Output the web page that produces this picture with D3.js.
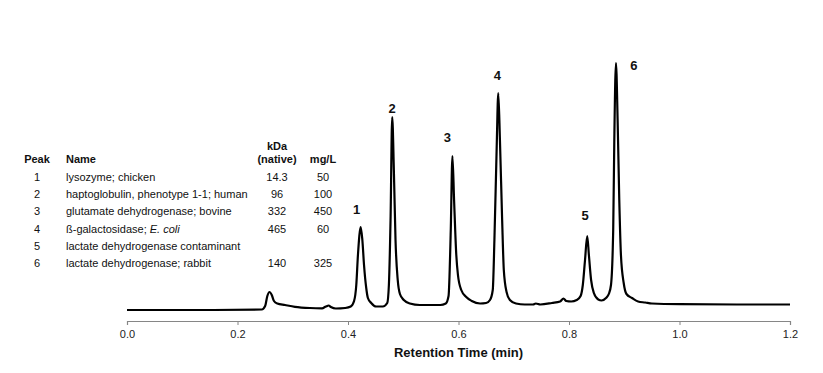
<!DOCTYPE html>
<html>
<head>
<meta charset="utf-8">
<script src="https://cdn.jsdelivr.net/npm/d3@7"></script>
<style>
  body { margin: 0; background: #fff; }
  text { font-family: "Liberation Sans", Arial, sans-serif; }
</style>
</head>
<body>
<div id="chart"></div>
<script>
// chromatogram trace: retention time (min), detector signal (arb.)
var traceTime = [0, 0.132, 0.244, 0.250, 0.254, 0.258, 0.262, 0.266, 0.272, 0.286, 0.304, 0.331,
  0.353, 0.360, 0.365, 0.369, 0.378, 0.395, 0.405, 0.411, 0.415, 0.418, 0.423, 0.426, 0.429,
  0.433, 0.436, 0.442, 0.451, 0.463, 0.471, 0.474, 0.477, 0.480, 0.483, 0.486, 0.490, 0.494,
  0.501, 0.512, 0.530, 0.567, 0.577, 0.582, 0.586, 0.589, 0.592, 0.596, 0.599, 0.605, 0.614,
  0.624, 0.639, 0.650, 0.657, 0.662, 0.665, 0.669, 0.672, 0.675, 0.679, 0.682, 0.687, 0.693,
  0.704, 0.720, 0.735, 0.740, 0.748, 0.769, 0.784, 0.790, 0.795, 0.804, 0.814, 0.821, 0.825,
  0.829, 0.833, 0.836, 0.840, 0.845, 0.853, 0.859, 0.867, 0.872, 0.876, 0.880, 0.882, 0.885,
  0.888, 0.891, 0.894, 0.899, 0.904, 0.914, 0.925, 0.938, 0.950, 1.001, 1.110, 1.200];
var traceSignal = [0, 0, 0.5, 4, 14, 18, 15, 9, 6.5, 5, 3.2, 2,
  1.7, 3.5, 4.5, 3, 1.5, 2, 3.5, 9, 25, 55, 83, 70, 45,
  22, 12, 7, 3.5, 3.5, 7, 25, 90, 193, 140, 70, 30, 16,
  10, 6.5, 5, 5, 6.5, 14, 80, 154, 110, 55, 35, 20, 13,
  9, 6.5, 7, 10, 20, 70, 160, 217, 170, 90, 40, 18, 10,
  6.5, 5.5, 5.5, 6.5, 5.5, 7, 8.5, 11.5, 9, 8.5, 10, 14, 25,
  50, 74, 55, 30, 17, 10.5, 9.5, 12, 16, 25, 80, 170, 247,
  190, 110, 55, 27, 16, 12, 8.5, 7.5, 6.5, 5.8, 5.5, 5.5];

// numbered peaks
var peakLabels = ["1", "2", "3", "4", "5", "6"];
var peakTimes = [0.423, 0.480, 0.589, 0.672, 0.833, 0.885];
var peakSignals = [83, 193, 154, 217, 74, 247];

// x axis
var xTicks = [0, 0.2, 0.4, 0.6, 0.8, 1.0, 1.2];
var xTitle = "Retention Time (min)";

// sample table
var tablePeaks = ["1", "2", "3", "4", "5", "6"];
var tableNames = ["lysozyme; chicken", "haptoglobulin, phenotype 1-1; human",
  "glutamate dehydrogenase; bovine", "ß-galactosidase; E. coli",
  "lactate dehydrogenase contaminant", "lactate dehydrogenase; rabbit"];
var tableKda = ["14.3", "96", "332", "465", "", "140"];
var tableMgL = ["50", "100", "450", "60", "", "325"];
var italicTerm = "E. coli";

var width = 823, height = 373;

var svg = d3.select("#chart").append("svg")
  .attr("width", width)
  .attr("height", height);

var x = d3.scaleLinear().domain([0, 1.2]).range([127, 790]);
var y = d3.scaleLinear().domain([0, 250]).range([310, 60]);

// axis
var axisY = 321;
var xAxis = d3.axisBottom(x)
  .tickValues(xTicks)
  .tickFormat(d3.format(".1f"))
  .tickSize(4)
  .tickPadding(5);

var gx = svg.append("g")
  .attr("transform", "translate(0," + axisY + ")")
  .call(xAxis);
gx.select(".domain").attr("stroke", "#868686").attr("stroke-width", 1.2);
gx.selectAll(".tick line").attr("stroke", "#868686");
gx.selectAll(".tick text")
  .attr("font-family", "Liberation Sans, Arial, sans-serif")
  .attr("font-size", 11)
  .attr("fill", "#222");

svg.append("text")
  .text(xTitle)
  .attr("x", (x(0) + x(1.2)) / 2)
  .attr("y", 357)
  .attr("text-anchor", "middle")
  .attr("font-size", 13)
  .attr("font-weight", "bold")
  .attr("fill", "#111");

// trace
var points = traceTime.map(function (t, i) { return [t, traceSignal[i]]; });
var line = d3.line()
  .x(function (d) { return x(d[0]); })
  .y(function (d) { return y(d[1]); })
  .curve(d3.curveMonotoneX);

svg.append("path")
  .datum(points)
  .attr("d", line)
  .attr("fill", "none")
  .attr("stroke", "#000")
  .attr("stroke-width", 2.2)
  .attr("stroke-linejoin", "round");

// peak numbers
var labelOffsets = [[-4, -13], [0, -4], [-5, -14], [-1, -13], [-2, -16], [18, 7]];
svg.selectAll(".peak-label")
  .data(peakLabels)
  .enter().append("text")
  .attr("class", "peak-label")
  .text(function (d) { return d; })
  .attr("x", function (d, i) { return x(peakTimes[i]) + labelOffsets[i][0]; })
  .attr("y", function (d, i) { return y(peakSignals[i]) + labelOffsets[i][1]; })
  .attr("text-anchor", "middle")
  .attr("font-family", "DejaVu Serif, serif")
  .attr("font-size", 13)
  .attr("font-weight", "bold")
  .attr("fill", "#111");

// table
var table = svg.append("g").attr("font-size", 11).attr("fill", "#111");
var colPeak = 37, colName = 66, colKda = 277, colMg = 323;
var rowTop = 181, rowStep = 17.2;

table.append("text").text("Peak").attr("x", colPeak).attr("y", 163)
  .attr("text-anchor", "middle").attr("font-weight", "bold");
table.append("text").text("Name").attr("x", colName).attr("y", 163)
  .attr("font-weight", "bold");
table.append("text").text("kDa").attr("x", colKda).attr("y", 150)
  .attr("text-anchor", "middle").attr("font-weight", "bold");
table.append("text").text("(native)").attr("x", colKda).attr("y", 163)
  .attr("text-anchor", "middle").attr("font-weight", "bold");
table.append("text").text("mg/L").attr("x", colMg).attr("y", 163)
  .attr("text-anchor", "middle").attr("font-weight", "bold");

tablePeaks.forEach(function (p, i) {
  var ry = rowTop + i * rowStep;
  table.append("text").text(p).attr("x", colPeak).attr("y", ry).attr("text-anchor", "middle");
  var nameText = table.append("text").attr("x", colName).attr("y", ry);
  var name = tableNames[i];
  var k = name.indexOf(italicTerm);
  if (k >= 0) {
    nameText.append("tspan").text(name.slice(0, k));
    nameText.append("tspan").text(italicTerm).attr("font-style", "italic");
  } else {
    nameText.text(name);
  }
  table.append("text").text(tableKda[i]).attr("x", colKda).attr("y", ry).attr("text-anchor", "middle");
  table.append("text").text(tableMgL[i]).attr("x", colMg).attr("y", ry).attr("text-anchor", "middle");
});
</script>
</body>
</html>
